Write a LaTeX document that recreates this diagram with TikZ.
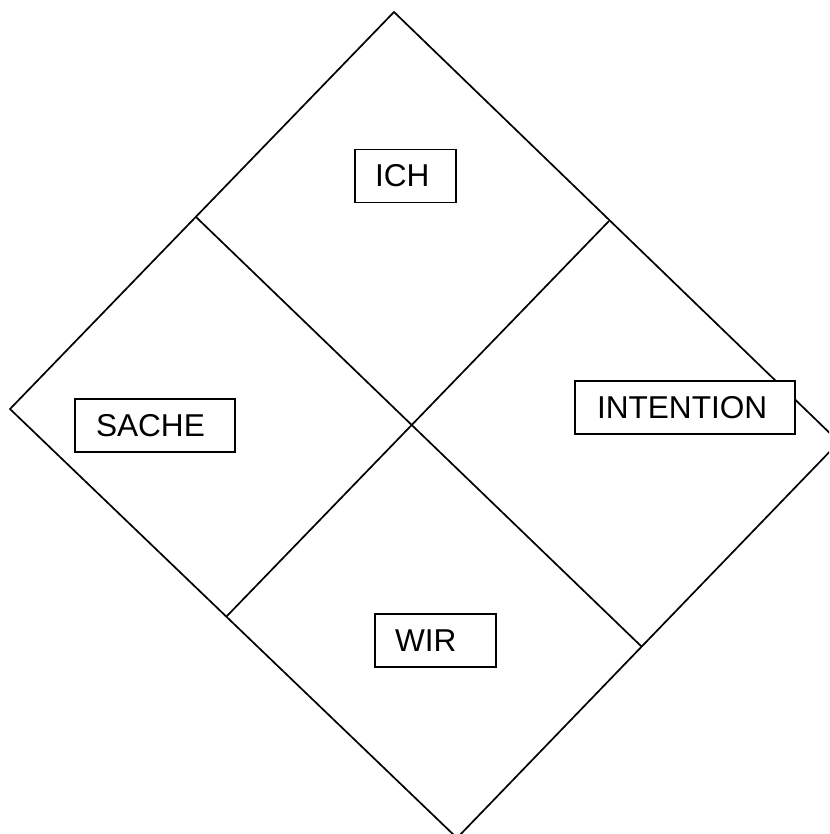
\documentclass[tikz,border=0pt]{standalone}
\usepackage{fontspec}
\setmainfont{Liberation Sans}
\begin{document}
\begin{tikzpicture}[x=1pt,y=-1pt,
  edge/.style={line width=1.7pt,black},
  lbl/.style={draw=black,line width=1.8pt,fill=white,inner xsep=0pt,inner ysep=0pt,
    minimum height=53pt,align=left,font=\fontsize{31.6}{36}\selectfont}]
\useasboundingbox (0,0) rectangle (829,834);
\clip (0,0) rectangle (829,834);
\coordinate (T) at (394,12);
\coordinate (L) at (10,409);
\coordinate (R) at (839,442);
\coordinate (B) at (457,838);
\coordinate (a) at (196,217);
\coordinate (b) at (609,221);
\coordinate (c) at (642,647);
\coordinate (d) at (226,617);
\draw[edge] (T) -- (L) -- (B) -- (R) -- cycle;
\draw[edge] (a) -- (c);
\draw[edge] (b) -- (d);
\node[lbl,minimum width=101pt,text width=61pt] (ich) at (405.5,176) {ICH};
\node[lbl,minimum width=160pt,text width=118pt] (sache) at (155,425.5) {SACHE};
\node[lbl,minimum width=220pt,text width=176pt] (intention) at (685,407.5) {INTENTION};
\node[lbl,minimum width=121pt,text width=81pt] (wir) at (435.5,640.5) {WIR};
\end{tikzpicture}
\end{document}
